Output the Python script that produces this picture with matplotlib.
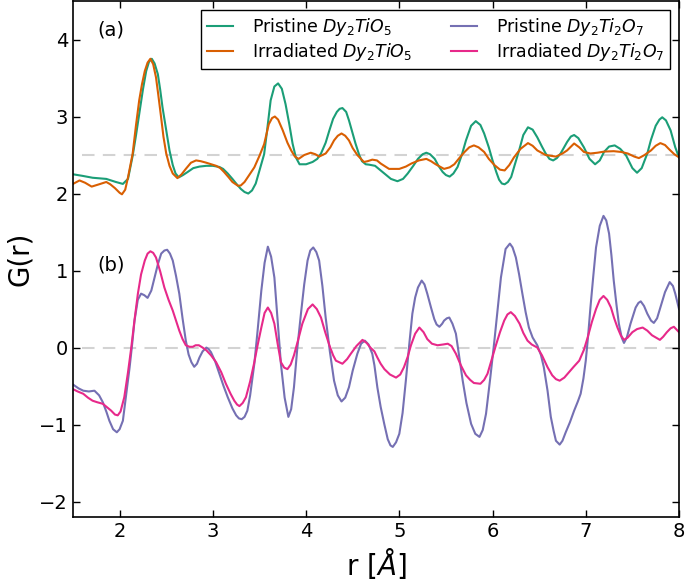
import matplotlib
matplotlib.use("Agg")
import matplotlib.pyplot as plt

# Pristine Dy2TiO5 (shifted by +2.5)
r_pt = [1.50, 1.60, 1.71, 1.857, 1.96, 2.035, 2.09, 2.14, 2.175, 2.21, 2.25, 2.285,
        2.315, 2.345, 2.375, 2.41, 2.435, 2.46, 2.50, 2.535, 2.57, 2.60, 2.635, 2.68,
        2.73, 2.79, 2.856, 2.93, 3.00, 3.07, 3.11, 3.16, 3.21, 3.25, 3.30, 3.34,
        3.38, 3.42, 3.46, 3.50, 3.55, 3.58, 3.62, 3.66, 3.70, 3.74, 3.78, 3.82,
        3.855, 3.89, 3.93, 4.00, 4.07, 4.12, 4.16, 4.21, 4.25, 4.29, 4.33, 4.36,
        4.39, 4.43, 4.46, 4.50, 4.53, 4.57, 4.60, 4.64, 4.675, 4.74, 4.79, 4.84,
        4.91, 4.98, 5.04, 5.09, 5.15, 5.20, 5.25, 5.29, 5.33, 5.38, 5.42, 5.465,
        5.50, 5.54, 5.58, 5.625, 5.67, 5.715, 5.77, 5.82, 5.87, 5.91, 5.96, 6.00,
        6.04, 6.07, 6.10, 6.13, 6.165, 6.20, 6.24, 6.285, 6.33, 6.38, 6.43, 6.48,
        6.53, 6.57, 6.61, 6.65, 6.69, 6.73, 6.80, 6.84, 6.875, 6.92, 6.98, 7.04,
        7.10, 7.15, 7.196, 7.25, 7.31, 7.37, 7.43, 7.50, 7.55, 7.60, 7.66, 7.70,
        7.75, 7.79, 7.82, 7.86, 7.91, 7.96, 8.00]
g_pt = [2.25, 2.23, 2.205, 2.19, 2.15, 2.125, 2.19, 2.49, 2.75, 3.03, 3.35, 3.59,
        3.71, 3.75, 3.69, 3.55, 3.35, 3.12, 2.82, 2.56, 2.37, 2.26, 2.21, 2.24,
        2.28, 2.33, 2.35, 2.36, 2.36, 2.345, 2.32, 2.26, 2.19, 2.13, 2.06, 2.02,
        2.00, 2.04, 2.13, 2.30, 2.51, 2.80, 3.21, 3.39, 3.43, 3.36, 3.16, 2.90,
        2.65, 2.47, 2.38, 2.38, 2.41, 2.45, 2.52, 2.66, 2.82, 2.97, 3.06, 3.10,
        3.11, 3.06, 2.95, 2.78, 2.65, 2.50, 2.42, 2.38, 2.375, 2.36, 2.31, 2.26,
        2.19, 2.16, 2.19, 2.26, 2.36, 2.45, 2.51, 2.53, 2.51, 2.45, 2.36, 2.28,
        2.24, 2.22, 2.26, 2.345, 2.50, 2.69, 2.88, 2.94, 2.89, 2.78, 2.60, 2.43,
        2.28, 2.18, 2.13, 2.12, 2.15, 2.215, 2.38, 2.56, 2.76, 2.86, 2.83, 2.73,
        2.61, 2.52, 2.45, 2.43, 2.46, 2.52, 2.67, 2.74, 2.76, 2.72, 2.60, 2.45,
        2.38, 2.43, 2.54, 2.61, 2.625, 2.58, 2.50, 2.33, 2.27, 2.33, 2.52, 2.70,
        2.88, 2.96, 2.99, 2.95, 2.82, 2.60, 2.47]

# Irradiated Dy2TiO5 (shifted by +2.5)
r_it = [1.50, 1.57, 1.63, 1.70, 1.78, 1.857, 1.90, 1.95, 2.00, 2.025, 2.06, 2.09,
        2.14, 2.175, 2.21, 2.24, 2.27, 2.30, 2.33, 2.36, 2.39, 2.415, 2.445, 2.47,
        2.50, 2.535, 2.57, 2.62, 2.665, 2.71, 2.765, 2.82, 2.87, 2.93, 3.035, 3.08,
        3.12, 3.17, 3.21, 3.27, 3.30, 3.34, 3.39, 3.445, 3.50, 3.55, 3.60, 3.635,
        3.665, 3.70, 3.75, 3.80, 3.84, 3.88, 3.92, 3.98, 4.05, 4.10, 4.14, 4.21,
        4.26, 4.30, 4.34, 4.38, 4.42, 4.46, 4.50, 4.55, 4.62, 4.66, 4.71, 4.76,
        4.80, 4.89, 5.00, 5.07, 5.13, 5.21, 5.29, 5.34, 5.39, 5.48, 5.54, 5.59,
        5.65, 5.70, 5.75, 5.80, 5.85, 5.91, 5.96, 6.02, 6.08, 6.13, 6.18, 6.23,
        6.30, 6.38, 6.43, 6.48, 6.57, 6.68, 6.75, 6.80, 6.875, 6.93, 6.98, 7.05,
        7.125, 7.20, 7.30, 7.38, 7.45, 7.52, 7.57, 7.63, 7.70, 7.75, 7.80, 7.85,
        7.89, 7.95, 8.00]
g_it = [2.125, 2.17, 2.14, 2.09, 2.12, 2.15, 2.12, 2.07, 2.01, 1.99, 2.05, 2.21,
        2.52, 2.88, 3.21, 3.42, 3.59, 3.70, 3.75, 3.68, 3.51, 3.28, 2.99, 2.74,
        2.52, 2.36, 2.26, 2.20, 2.25, 2.32, 2.40, 2.43, 2.42, 2.40, 2.36, 2.33,
        2.28, 2.21, 2.15, 2.10, 2.105, 2.15, 2.24, 2.34, 2.49, 2.64, 2.90, 2.98,
        3.00, 2.96, 2.82, 2.66, 2.56, 2.48, 2.45, 2.50, 2.53, 2.51, 2.48, 2.52,
        2.60, 2.69, 2.75, 2.78, 2.75, 2.69, 2.59, 2.50, 2.41, 2.42, 2.44, 2.43,
        2.39, 2.32, 2.32, 2.35, 2.39, 2.43, 2.45, 2.42, 2.38, 2.32, 2.34, 2.38,
        2.47, 2.54, 2.60, 2.625, 2.60, 2.54, 2.45, 2.37, 2.31, 2.30, 2.37, 2.47,
        2.58, 2.655, 2.62, 2.56, 2.50, 2.48, 2.52, 2.56, 2.65, 2.60, 2.54, 2.52,
        2.53, 2.545, 2.55, 2.54, 2.52, 2.48, 2.46, 2.50, 2.56, 2.62, 2.655, 2.63,
        2.58, 2.51, 2.47]

# Pristine Dy2Ti2O7
r_pp = [1.50, 1.56, 1.61, 1.67, 1.73, 1.78, 1.82, 1.86, 1.89, 1.93, 1.97, 2.00,
        2.035, 2.07, 2.107, 2.135, 2.16, 2.195, 2.23, 2.265, 2.30, 2.34, 2.375, 2.41,
        2.446, 2.48, 2.51, 2.54, 2.57, 2.605, 2.64, 2.675, 2.71, 2.74, 2.77, 2.80,
        2.83, 2.856, 2.89, 2.93, 2.955, 2.98, 3.025, 3.07, 3.115, 3.16, 3.21, 3.25,
        3.28, 3.31, 3.34, 3.37, 3.40, 3.445, 3.48, 3.52, 3.555, 3.59, 3.625, 3.66,
        3.695, 3.73, 3.77, 3.81, 3.84, 3.87, 3.905, 3.945, 3.98, 4.016, 4.045, 4.077,
        4.11, 4.14, 4.175, 4.21, 4.255, 4.30, 4.34, 4.38, 4.42, 4.46, 4.50, 4.55,
        4.59, 4.63, 4.67, 4.71, 4.733, 4.765, 4.80, 4.84, 4.876, 4.905, 4.93, 4.965,
        5.00, 5.035, 5.07, 5.105, 5.14, 5.17, 5.20, 5.24, 5.27, 5.30, 5.34, 5.375,
        5.40, 5.43, 5.46, 5.48, 5.51, 5.536, 5.57, 5.607, 5.64, 5.68, 5.72, 5.77,
        5.815, 5.86, 5.895, 5.93, 5.975, 6.02, 6.055, 6.09, 6.14, 6.186, 6.215, 6.25,
        6.285, 6.32, 6.355, 6.39, 6.43, 6.48, 6.52, 6.55, 6.59, 6.625, 6.655, 6.68,
        6.72, 6.75, 6.785, 6.83, 6.875, 6.915, 6.945, 6.975, 7.00, 7.025, 7.05, 7.08,
        7.11, 7.15, 7.19, 7.22, 7.25, 7.275, 7.30, 7.33, 7.355, 7.385, 7.41, 7.44,
        7.48, 7.535, 7.565, 7.59, 7.625, 7.66, 7.70, 7.73, 7.765, 7.80, 7.85, 7.90,
        7.935, 7.96, 8.00]
g_pp = [-0.48, -0.53, -0.56, -0.57, -0.56, -0.62, -0.71, -0.84, -0.95, -1.06, -1.10, -1.06,
        -0.95, -0.62, -0.26, 0.05, 0.35, 0.62, 0.70, 0.68, 0.645, 0.74, 0.91, 1.08,
        1.22, 1.26, 1.27, 1.22, 1.13, 0.93, 0.70, 0.38, 0.09, -0.09, -0.19, -0.25,
        -0.21, -0.13, -0.05, 0.00, -0.02, -0.06, -0.18, -0.34, -0.50, -0.645, -0.79, -0.88,
        -0.92, -0.93, -0.90, -0.82, -0.62, -0.21, 0.22, 0.74, 1.10, 1.31, 1.18, 0.91,
        0.35, -0.21, -0.65, -0.90, -0.80, -0.515, -0.02, 0.44, 0.82, 1.13, 1.26, 1.30,
        1.24, 1.13, 0.80, 0.39, -0.05, -0.43, -0.62, -0.70, -0.65, -0.515, -0.30, -0.08,
        0.05, 0.09, 0.04, -0.08, -0.23, -0.52, -0.77, -1.00, -1.19, -1.27, -1.29, -1.23,
        -1.12, -0.85, -0.43, 0.02, 0.44, 0.65, 0.78, 0.87, 0.82, 0.70, 0.52, 0.37,
        0.30, 0.27, 0.31, 0.35, 0.38, 0.39, 0.31, 0.18, -0.10, -0.43, -0.72, -0.99,
        -1.12, -1.16, -1.07, -0.86, -0.40, 0.09, 0.50, 0.91, 1.28, 1.35, 1.30, 1.17,
        0.95, 0.70, 0.46, 0.26, 0.13, 0.03, -0.10, -0.255, -0.56, -0.90, -1.08, -1.21,
        -1.26, -1.21, -1.10, -0.97, -0.82, -0.70, -0.60, -0.40, -0.17, 0.15, 0.52, 0.92,
        1.30, 1.58, 1.71, 1.65, 1.48, 1.20, 0.87, 0.55, 0.31, 0.13, 0.06, 0.13,
        0.31, 0.52, 0.58, 0.60, 0.54, 0.44, 0.35, 0.32, 0.38, 0.52, 0.72, 0.85,
        0.80, 0.70, 0.50]

# Irradiated Dy2Ti2O7
r_ip = [1.50, 1.55, 1.61, 1.66, 1.71, 1.76, 1.82, 1.87, 1.91, 1.95, 1.98, 2.01,
        2.05, 2.09, 2.125, 2.16, 2.196, 2.23, 2.27, 2.30, 2.33, 2.36, 2.39, 2.435,
        2.48, 2.525, 2.57, 2.605, 2.64, 2.675, 2.71, 2.75, 2.785, 2.815, 2.85, 2.89,
        2.93, 2.98, 3.035, 3.09, 3.14, 3.19, 3.23, 3.26, 3.285, 3.32, 3.355, 3.40,
        3.445, 3.48, 3.52, 3.555, 3.59, 3.625, 3.66, 3.695, 3.73, 3.765, 3.80, 3.835,
        3.87, 3.915, 3.96, 4.02, 4.07, 4.115, 4.16, 4.205, 4.25, 4.29, 4.32, 4.39,
        4.44, 4.48, 4.54, 4.605, 4.65, 4.69, 4.733, 4.765, 4.80, 4.84, 4.90, 4.965,
        5.01, 5.05, 5.09, 5.125, 5.17, 5.215, 5.26, 5.30, 5.35, 5.41, 5.47, 5.52,
        5.56, 5.607, 5.66, 5.715, 5.76, 5.80, 5.87, 5.91, 5.946, 5.99, 6.036, 6.08,
        6.125, 6.16, 6.196, 6.24, 6.29, 6.33, 6.375, 6.42, 6.48, 6.53, 6.59, 6.64,
        6.68, 6.72, 6.77, 6.82, 6.87, 6.93, 6.98, 7.02, 7.065, 7.11, 7.15, 7.19,
        7.23, 7.27, 7.305, 7.34, 7.375, 7.41, 7.45, 7.50, 7.55, 7.61, 7.66, 7.71,
        7.795, 7.83, 7.87, 7.91, 7.945, 8.00]
g_ip = [-0.54, -0.57, -0.60, -0.65, -0.69, -0.71, -0.73, -0.78, -0.82, -0.87, -0.88, -0.83,
        -0.645, -0.32, 0.00, 0.36, 0.70, 0.95, 1.13, 1.22, 1.25, 1.23, 1.17, 0.99,
        0.78, 0.62, 0.48, 0.35, 0.22, 0.11, 0.03, 0.01, 0.01, 0.03, 0.03, 0.00,
        -0.035, -0.10, -0.19, -0.32, -0.47, -0.60, -0.69, -0.74, -0.76, -0.72, -0.645, -0.44,
        -0.19, 0.03, 0.26, 0.45, 0.52, 0.45, 0.31, 0.05, -0.19, -0.26, -0.28, -0.22,
        -0.10, 0.10, 0.31, 0.50, 0.56, 0.50, 0.39, 0.20, 0.03, -0.10, -0.17, -0.21,
        -0.15, -0.08, 0.02, 0.10, 0.06, 0.00, -0.05, -0.13, -0.21, -0.28, -0.35, -0.39,
        -0.35, -0.255, -0.12, 0.03, 0.18, 0.26, 0.20, 0.11, 0.05, 0.03, 0.04, 0.05,
        0.02, -0.08, -0.23, -0.36, -0.42, -0.46, -0.47, -0.42, -0.34, -0.16, 0.03, 0.20,
        0.35, 0.43, 0.46, 0.41, 0.31, 0.19, 0.09, 0.04, 0.00, -0.10, -0.255, -0.36,
        -0.41, -0.43, -0.39, -0.32, -0.25, -0.17, -0.03, 0.13, 0.33, 0.50, 0.62, 0.67,
        0.62, 0.52, 0.38, 0.26, 0.16, 0.10, 0.13, 0.20, 0.24, 0.26, 0.22, 0.16,
        0.10, 0.14, 0.20, 0.25, 0.27, 0.20]

labels = [r"Pristine $Dy_2TiO_5$", r"Irradiated $Dy_2TiO_5$",
          r"Pristine $Dy_2Ti_2O_7$", r"Irradiated $Dy_2Ti_2O_7$"]
colors = ["#1b9e77", "#d95f02", "#7570b3", "#e7298a"]
baselines = [2.5, 0.0]
xticks = [2, 3, 4, 5, 6, 7, 8]
yticks = [-2, -1, 0, 1, 2, 3, 4]

plt.rcParams["font.family"] = ["DejaVu Sans"]
plt.rcParams["mathtext.fontset"] = "dejavusans"

fig = plt.figure(figsize=(6.85, 5.81), dpi=100)
ax = fig.add_axes([73/685, 1 - 517/581, 606/685, 516/581])

for b in baselines:
    ax.plot([1.6, 8.0], [b, b], color="#d3d3d3", lw=1.5, dashes=(6, 4), zorder=1)

series = [(r_pt, g_pt), (r_it, g_it), (r_pp, g_pp), (r_ip, g_ip)]
for (xs, ys), c, lab in zip(series, colors, labels):
    ax.plot(xs, ys, color=c, lw=1.5, label=lab, zorder=2)

ax.set_xlim(1.5, 8)
ax.set_ylim(-2.2, 4.5)
ax.set_xticks(xticks)
ax.set_yticks(yticks)
ax.set_yticklabels(["\u22122", "\u22121", "0", "1", "2", "3", "4"])
ax.tick_params(direction="in", top=True, right=True, labelsize=14, length=5, width=1)
for s in ax.spines.values():
    s.set_linewidth(1.2)

ax.text(1.76, 4.12, "(a)", fontsize=14, va="center", ha="left")
ax.text(1.76, 1.07, "(b)", fontsize=14, va="center", ha="left")

ax.set_xlabel(r"r [$\AA$]", fontsize=20)
ax.set_ylabel("G(r)", fontsize=20)

leg = ax.legend(ncol=2, loc="upper right", fontsize=12.5, fancybox=False,
                edgecolor="black", framealpha=1, handlelength=1.5,
                handletextpad=1.1, columnspacing=2.2, borderpad=0.35,
                labelspacing=0.2)
leg.get_frame().set_linewidth(1.0)

fig.savefig("out.png", dpi=100)
